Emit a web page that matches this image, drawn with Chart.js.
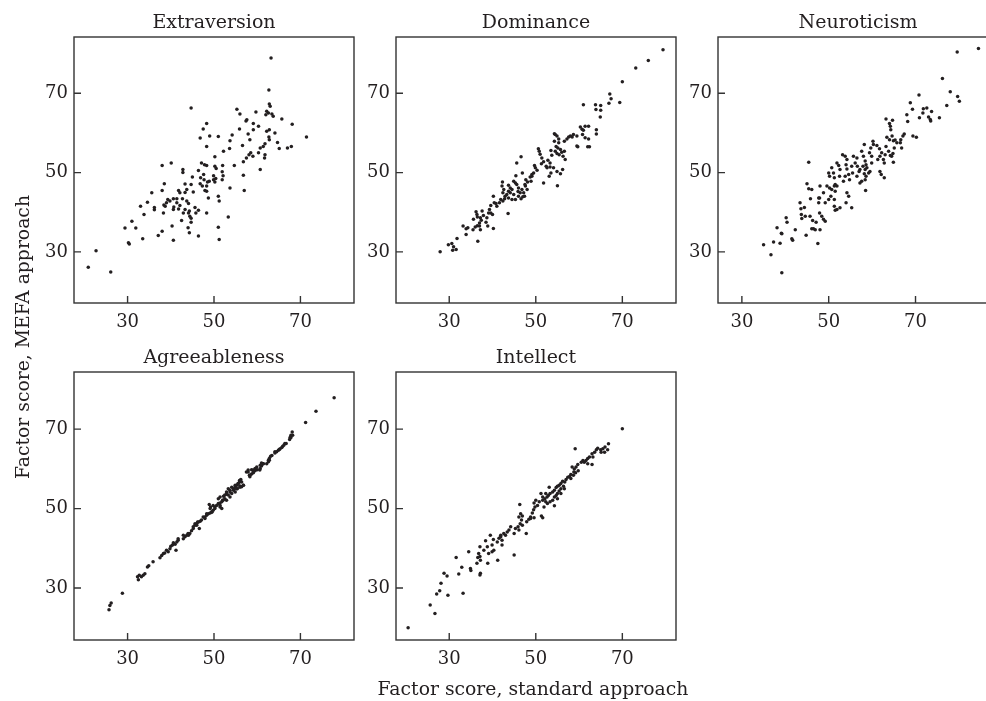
<!DOCTYPE html>
<html>
<head>
<meta charset="utf-8">
<script src="https://cdn.jsdelivr.net/npm/chart.js@4/dist/chart.umd.min.js"></script>
<style>
  html, body { margin:0; padding:0; background:#fff; width:986px; height:701px; overflow:hidden; }
  .panel { position:absolute; }
  .axis-title { position:absolute; font:18.8px "DejaVu Serif", serif; color:#231f20; white-space:nowrap; text-align:center; line-height:22px; height:22px; }
</style>
</head>
<body>
<canvas id="c-extra" class="panel"></canvas>
<canvas id="c-dom" class="panel"></canvas>
<canvas id="c-neuro" class="panel"></canvas>
<canvas id="c-agree" class="panel"></canvas>
<canvas id="c-intel" class="panel"></canvas>
<div class="axis-title" style="left:333px;top:678px;width:400px;">Factor score, standard approach</div>
<div class="axis-title" style="left:-177px;top:326px;width:400px;transform:rotate(-90deg);">Factor score, MEFA approach</div>

<script>
/* ===== DATA ===== */
const TICKS = [30, 50, 70];

// [standard approach, MEFA approach]
const extraversion = [
  [63.2,78.9],[62.7,70.8],[44.7,66.3],[62.8,67.3],[63.0,66.7],[55.3,66.0],[56.0,64.8],[59.7,65.3],[62.2,65.5],[62.6,65.0],
  [63.4,64.8],[63.7,64.2],[62.0,64.6],[65.7,63.5],[57.4,63.0],[57.6,63.3],[48.3,62.4],[47.5,61.0],[55.9,61.0],[59.1,62.4],
  [60.3,61.7],[59.1,60.8],[62.8,60.8],[62.2,60.4],[68.1,62.2],[64.1,60.0],[54.2,59.5],[49.0,59.2],[46.8,58.7],[51.0,59.1],
  [57.9,59.7],[71.4,59.0],[53.7,58.0],[62.7,59.0],[62.8,58.3],[58.3,58.3],[61.8,57.3],[61.4,56.6],[48.3,56.6],[56.6,56.8],
  [64.7,57.6],[65.1,56.1],[67.0,56.2],[67.9,56.6],[60.7,56.2],[60.3,55.0],[52.2,55.4],[53.6,56.1],[58.1,54.5],[58.5,55.0],
  [57.5,53.7],[59.0,54.1],[61.8,54.5],[61.7,53.7],[56.8,52.7],[54.7,51.8],[50.2,54.0],[60.7,50.8],[47.1,52.4],[47.8,52.0],
  [48.3,51.8],[42.8,50.8],[42.8,50.0],[38.0,51.8],[40.1,52.4],[46.4,50.5],[47.6,49.5],[50.2,51.6],[50.5,51.0],[49.9,49.2],
  [50.4,48.5],[51.9,50.2],[52.1,49.2],[51.9,48.2],[49.9,48.2],[50.2,47.6],[52.0,51.8],[47.7,48.2],[48.5,47.6],[48.9,47.8],
  [45.0,48.9],[46.9,48.7],[56.8,49.3],[57.0,45.5],[53.7,46.1],[48.3,46.6],[47.9,45.5],[48.3,45.3],[48.7,43.6],[46.8,47.2],
  [47.3,46.6],[44.7,47.0],[45.2,45.1],[43.3,47.1],[41.8,45.5],[42.1,44.9],[43.3,45.0],[43.7,45.7],[41.4,43.4],[41.4,42.4],
  [38.5,47.2],[38.0,45.5],[40.6,43.4],[39.8,42.8],[39.0,42.4],[38.7,41.5],[39.3,43.2],[40.7,41.3],[40.6,40.7],[42.1,41.7],
  [43.7,42.8],[44.1,42.2],[44.3,40.3],[44.4,39.0],[44.7,38.5],[45.6,41.2],[45.8,39.8],[43.3,40.7],[44.1,39.8],[42.9,39.8],
  [48.3,39.8],[46.4,40.5],[35.6,44.9],[36.2,41.2],[36.2,40.6],[34.6,42.5],[33.0,41.5],[33.8,39.4],[38.4,41.8],[38.3,39.8],
  [40.3,36.5],[42.5,37.9],[44.0,36.1],[44.3,34.8],[46.4,34.0],[44.7,37.5],[53.3,38.8],[51.0,36.2],[51.2,33.1],[51.0,44.0],
  [51.2,42.8],[37.1,34.1],[38.0,35.2],[40.6,32.9],[33.5,33.3],[29.4,36.0],[31.0,37.7],[31.9,36.0],[30.2,32.3],[30.4,32.0],
  [20.9,26.1],[22.7,30.3],[26.1,24.9],[41.8,40.8],[42.7,43.4]
];

const dominance = [
  [79.4,81.0],[76.0,78.3],[73.1,76.4],[70.0,72.9],[67.1,69.8],[67.4,68.6],[66.9,67.5],[69.4,67.7],[63.8,67.1],[63.9,65.9],
  [65.0,66.9],[65.0,65.7],[64.9,64.0],[61.0,67.1],[64.0,60.8],[64.0,59.7],[60.3,61.5],[60.7,60.9],[61.0,60.7],[61.4,61.7],
  [62.2,61.7],[60.8,59.6],[61.4,58.8],[62.2,58.5],[62.4,56.5],[62.0,56.5],[59.5,59.2],[59.5,56.7],[59.7,56.5],[58.7,59.6],
  [58.4,59.0],[58.0,59.2],[57.6,59.0],[57.2,58.5],[56.6,57.9],[54.3,59.8],[54.5,59.6],[54.9,59.2],[55.3,58.5],[54.3,57.9],
  [55.3,57.5],[54.7,56.6],[55.1,56.2],[55.7,55.8],[54.5,55.4],[54.9,54.8],[55.4,54.5],[56.0,55.1],[56.3,54.1],[56.6,55.4],
  [56.8,53.3],[53.5,55.6],[53.7,54.4],[52.8,53.1],[53.3,52.4],[52.4,51.6],[50.6,56.0],[50.8,55.4],[51.0,54.6],[51.4,53.7],
  [51.8,52.7],[51.3,52.2],[52.6,51.2],[53.3,51.4],[54.1,51.2],[53.5,49.9],[53.1,49.1],[54.9,50.3],[55.7,49.7],[56.2,50.8],
  [55.0,46.7],[51.8,47.4],[49.9,51.2],[50.3,50.6],[49.5,49.9],[49.1,49.5],[49.7,51.8],[48.7,48.9],[48.9,47.8],[49.1,49.1],
  [47.7,48.2],[48.1,47.6],[47.6,46.6],[48.0,45.7],[47.2,44.9],[47.4,44.0],[47.0,43.9],[46.6,43.4],[46.6,54.0],[45.6,52.4],
  [45.4,49.2],[44.9,47.8],[45.3,47.4],[45.6,47.0],[46.0,46.1],[43.7,46.8],[44.1,46.1],[44.5,45.7],[43.7,45.3],[44.1,44.9],
  [44.9,44.5],[43.3,44.5],[42.9,44.0],[43.7,43.6],[44.5,43.2],[45.3,43.2],[46.0,44.0],[46.4,44.9],[46.8,45.7],[42.3,47.6],
  [42.2,46.6],[42.6,45.7],[42.4,44.9],[42.8,43.4],[42.4,42.8],[41.9,43.2],[41.6,42.4],[41.0,41.5],[40.8,42.2],[43.6,39.7],
  [40.2,44.0],[40.4,42.4],[39.6,41.7],[39.3,40.7],[39.1,39.8],[39.6,39.8],[40.0,39.4],[38.7,38.6],[38.5,37.5],[38.9,36.5],
  [40.2,35.9],[37.6,40.3],[37.9,39.2],[37.2,38.6],[37.4,38.0],[37.0,37.3],[36.5,36.6],[36.0,36.3],[37.0,36.5],[36.2,40.1],
  [36.4,39.4],[36.5,38.8],[35.6,38.2],[37.2,35.6],[36.6,32.7],[33.2,36.5],[33.9,35.8],[34.3,36.1],[33.9,34.4],[35.5,35.6],
  [31.8,33.4],[30.6,32.1],[29.8,31.8],[31.0,31.3],[30.8,30.4],[31.6,30.6],[27.9,30.0],[46.9,49.9],[47.5,47.0],[45.9,45.2]
];

const neuroticism = [
  [84.5,81.3],[79.6,80.4],[76.2,73.7],[78.0,70.4],[79.7,69.2],[80.1,68.0],[77.2,66.9],[75.5,63.8],[70.8,69.6],[68.8,67.6],
  [69.3,66.0],[71.8,66.1],[72.6,66.3],[71.7,65.0],[73.0,64.0],[73.4,63.4],[73.7,65.4],[73.5,63.0],[70.9,63.8],[68.0,64.6],
  [68.2,62.9],[69.4,59.2],[70.2,58.9],[67.4,59.7],[67.1,59.2],[66.6,58.3],[66.8,56.2],[66.5,57.5],[63.2,63.5],[64.0,62.4],
  [64.2,61.7],[64.3,60.8],[64.7,63.2],[63.4,58.9],[64.0,58.3],[64.6,59.2],[64.9,58.0],[65.3,58.2],[65.7,57.5],[65.1,56.2],
  [63.2,56.6],[63.8,55.4],[63.0,54.5],[62.6,53.3],[62.8,52.4],[64.2,54.3],[64.8,54.8],[64.5,54.1],[64.9,52.6],[61.1,56.8],
  [61.7,56.0],[62.2,55.0],[61.8,54.1],[61.3,53.3],[61.8,50.3],[62.1,49.5],[62.8,48.7],[60.2,57.9],[60.3,57.1],[59.7,56.2],
  [59.4,55.0],[59.9,54.1],[59.9,52.4],[58.2,57.1],[57.6,55.4],[58.0,54.1],[58.4,52.9],[58.6,52.0],[57.9,51.6],[57.2,50.8],
  [58.4,50.8],[58.8,51.2],[59.2,49.9],[59.5,50.3],[55.7,54.1],[56.5,53.7],[56.1,52.4],[56.6,51.6],[57.0,50.3],[56.5,49.1],
  [57.6,47.8],[57.2,47.4],[58.4,48.2],[58.6,49.1],[58.2,49.7],[58.5,45.5],[55.3,41.1],[54.2,50.9],[54.6,49.5],[53.8,49.1],
  [53.4,47.8],[54.8,48.2],[55.3,51.6],[55.5,49.9],[54.0,52.0],[53.2,54.5],[53.8,54.1],[54.2,53.3],[51.9,52.4],[52.3,51.8],
  [52.6,50.8],[52.5,49.1],[51.5,47.0],[51.9,46.6],[54.2,44.9],[54.6,44.0],[54.0,42.4],[50.7,51.2],[51.1,49.9],[51.3,48.7],
  [50.0,49.9],[50.2,49.1],[49.6,46.6],[50.2,46.1],[50.7,45.7],[51.3,46.6],[50.5,44.0],[51.5,45.3],[51.3,43.2],[51.3,41.5],
  [51.5,40.5],[51.9,40.7],[52.6,41.1],[48.0,46.6],[48.8,44.9],[49.2,42.4],[47.9,43.6],[50.0,43.2],[45.4,52.6],[45.0,47.2],
  [45.4,45.9],[45.8,43.4],[46.1,45.7],[43.4,42.4],[43.6,40.9],[44.4,41.2],[44.6,39.0],[45.7,39.0],[46.3,37.9],[46.5,35.8],
  [47.1,37.5],[46.1,35.8],[46.9,35.6],[47.7,43.6],[47.7,42.4],[47.9,39.8],[48.4,39.0],[48.8,38.2],[49.2,37.7],[48.0,35.6],
  [47.5,32.1],[40.2,38.6],[40.4,37.5],[42.3,35.6],[41.5,33.3],[41.7,32.9],[43.7,39.4],[43.8,38.4],[44.8,34.2],[38.1,36.1],
  [39.1,34.7],[39.2,34.6],[37.3,32.5],[38.8,32.2],[35.0,31.8],[36.7,29.3],[39.2,24.7]
];

const agreeableness = [
  [77.8,77.9],[73.6,74.5],[71.2,71.7],[68.1,69.3],[67.8,68.5],[67.6,67.9],[66.4,66.4],[65.9,65.7],[65.3,65.1],[64.9,64.7],
  [64.1,64.3],[63.4,63.4],[62.8,62.2],[62.6,61.8],[61.4,61.3],[61.0,60.7],[60.7,60.1],[60.0,59.8],[59.5,59.5],[59.1,59.0],
  [58.7,58.7],[58.3,58.0],[57.9,59.7],[57.5,59.2],[26.2,26.2],[25.9,25.6],[25.7,24.5],[28.8,28.7],[32.3,32.8],[32.5,32.1],
  [32.7,33.2],[33.2,32.8],[33.6,33.2],[34.0,33.6],[34.6,35.3],[34.9,35.6],[35.9,36.6],[37.5,37.6],[37.9,38.2],[38.3,38.7],
  [38.6,38.8],[39.0,39.5],[39.4,39.1],[39.8,39.9],[40.0,40.5],[40.4,40.8],[41.0,41.0],[41.4,41.6],[41.7,42.0],[41.2,39.5],
  [42.9,42.4],[43.3,42.9],[43.7,43.3],[44.1,43.3],[44.4,43.7],[44.8,44.4],[45.2,45.0],[45.6,45.8],[46.0,46.2],[46.2,46.6],
  [46.8,46.8],[47.1,47.1],[46.6,45.0],[47.9,47.9],[48.3,48.3],[48.7,48.7],[49.1,48.9],[49.5,49.2],[49.8,49.6],[49.2,50.4],
  [48.9,51.0],[50.2,50.4],[50.6,50.8],[51.0,51.3],[51.4,51.4],[51.4,50.4],[51.8,50.0],[52.0,52.1],[52.2,53.1],[52.5,52.5],
  [52.9,53.6],[53.3,53.4],[53.7,54.6],[54.1,53.8],[54.5,55.0],[54.9,55.5],[54.9,54.2],[55.3,55.9],[55.4,55.0],[55.6,56.3],
  [55.9,56.7],[56.0,55.7],[56.2,57.3],[56.4,55.5],[56.8,55.9],[53.7,52.9],[52.9,52.1],[57.9,59.2],[58.2,58.4],[58.7,59.8],
  [59.1,59.7],[59.5,60.1],[59.9,60.5],[61.0,61.5],[61.4,61.3],[60.7,60.9],[62.6,62.2],[62.8,62.6],[63.1,63.2],[64.1,64.0],
  [64.5,64.3],[65.1,64.9],[65.7,65.4],[66.2,66.0],[66.7,66.4],[67.5,67.4],[67.8,67.9],[68.2,68.5],
  [40.6,41.4],[41.7,42.4],[42.9,43.3],[44.0,43.7],[45.2,45.4],[45.6,46.2],[46.4,46.6],[46.0,45.8],[47.5,47.9],[48.3,48.7],
  [47.9,47.5],[49.1,50.0],[49.8,50.8],[49.5,49.1],[50.2,50.0],[51.0,52.5],[51.4,52.9],[51.8,51.7],[52.1,52.1],[52.5,53.4],
  [52.9,54.2],[51.4,50.8],[53.3,55.0],[53.7,54.2],[54.1,55.4],[54.5,54.6],[54.9,55.9],[55.2,55.0],[55.6,56.3],[56.0,55.4],
  [56.4,56.7],[56.8,55.9],[55.9,57.1],[58.3,58.4],[59.1,59.2],[60.6,59.7],[62.2,61.3]
];

const intellect = [
  [70.0,70.1],[59.1,65.1],[66.8,66.3],[66.0,65.5],[65.5,65.1],[65.0,64.8],[64.3,65.2],[64.0,64.8],[63.6,64.2],[63.0,63.8],
  [62.4,63.0],[62.0,62.6],[61.6,62.1],[61.2,61.7],[60.9,62.1],[60.5,61.7],[66.6,64.8],[65.9,64.2],[65.1,64.2],[63.2,63.0],
  [63.0,61.1],[62.0,61.3],[59.7,61.1],[59.3,60.5],[58.9,60.0],[58.4,60.5],[58.8,59.2],[58.1,58.6],[57.8,58.1],[57.4,57.9],
  [57.0,57.3],[56.7,56.7],[59.8,59.5],[59.2,59.0],[58.7,58.4],[58.1,57.6],[56.2,56.9],[55.8,56.3],[55.4,55.9],[55.0,55.6],
  [54.7,55.3],[54.3,54.6],[53.9,54.2],[53.3,53.8],[52.9,53.3],[52.6,52.9],[52.1,52.5],[51.6,52.1],[55.8,55.0],[55.4,54.4],
  [55.0,53.8],[54.7,53.3],[54.3,52.9],[53.9,52.1],[53.3,51.7],[52.7,51.3],[52.3,51.7],[54.3,50.7],[56.4,55.6],[56.6,55.0],
  [55.8,53.8],[55.0,52.5],[53.1,55.4],[52.3,53.8],[51.2,53.8],[51.6,52.9],[50.8,51.7],[50.4,50.8],[51.9,50.4],[51.3,48.1],
  [51.6,47.7],[50.0,52.1],[49.6,51.4],[49.8,50.4],[49.5,49.7],[49.2,48.9],[48.8,47.9],[48.4,47.3],[47.9,46.7],[48.8,47.5],
  [49.6,47.7],[46.3,51.0],[46.5,48.7],[46.1,47.9],[46.9,48.1],[46.7,47.1],[46.4,46.2],[45.9,45.4],[46.1,44.6],[45.3,45.0],
  [45.0,43.7],[45.0,38.3],[47.8,43.7],[46.9,45.8],[44.2,45.4],[43.8,44.6],[43.4,44.1],[43.0,43.3],[42.6,43.7],[42.2,42.0],
  [41.9,42.9],[41.5,42.5],[41.1,41.6],[42.2,40.8],[41.9,43.3],[41.2,37.0],[40.2,42.2],[39.9,40.8],[40.3,39.5],[39.9,39.1],
  [39.5,43.3],[38.8,40.4],[39.1,38.7],[38.9,36.2],[38.4,41.9],[38.0,39.5],[37.1,40.4],[36.8,38.7],[37.1,37.9],[37.2,37.0],
  [36.6,37.7],[36.4,36.2],[37.2,33.7],[37.1,33.3],[34.5,39.1],[34.9,34.9],[35.0,34.4],[32.9,35.2],[33.2,28.7],[32.2,33.5],
  [31.6,37.7],[28.8,33.7],[29.5,33.0],[28.1,31.2],[27.8,29.3],[27.1,28.5],[29.7,28.2],[25.6,25.7],[26.7,23.6],[20.5,20.0]
];

/* ===== STYLE / LAYOUT ===== */
const INK = '#231f20';
const FONT = '"DejaVu Serif", serif';
const Y_AXIS_W = 64, X_AXIS_H = 42, TITLE_H = 38, PAD_R = 12;
const TITLE_SIZE = 19;

const panels = [
  { id:'c-extra', title:'Extraversion',  pts:extraversion,  area:[74.3, 37, 280, 266.3],  x:[17.6, 82.4], y:[17.1, 84.2] },
  { id:'c-dom',   title:'Dominance',     pts:dominance,     area:[395.7, 37, 280, 266.3], x:[17.7, 82.4], y:[17.1, 84.2] },
  { id:'c-neuro', title:'Neuroticism',   pts:neuroticism,   area:[717.7, 37, 280, 266.3], x:[24.5, 89.0], y:[17.1, 84.2] },
  { id:'c-agree', title:'Agreeableness', pts:agreeableness, area:[74.3, 372.3, 280, 267.7],  x:[17.6, 82.4], y:[16.9, 84.4] },
  { id:'c-intel', title:'Intellect',     pts:intellect,     area:[395.7, 372.3, 280, 267.7], x:[17.7, 82.4], y:[16.9, 84.4] },
];

/* ===== FRAME + INWARD TICKS ===== */
const frame = {
  id: 'frame',
  afterDatasetsDraw(chart) {
    const { ctx, chartArea: a, scales: { x, y } } = chart;
    ctx.save();
    ctx.strokeStyle = '#333';
    ctx.lineWidth = 1.4;
    ctx.strokeRect(a.left, a.top, a.right - a.left, a.bottom - a.top);
    ctx.beginPath();
    x.ticks.forEach(t => {
      const px = x.getPixelForValue(t.value);
      ctx.moveTo(px, a.bottom); ctx.lineTo(px, a.bottom - 7);
    });
    y.ticks.forEach(t => {
      const py = y.getPixelForValue(t.value);
      ctx.moveTo(a.left, py); ctx.lineTo(a.left + 7, py);
    });
    ctx.stroke();
    ctx.restore();
  }
};

function axis(range, fitFn, pad) {
  return {
    type: 'linear', min: range[0], max: range[1],
    afterBuildTicks: s => { s.ticks = TICKS.map(v => ({ value: v })); },
    afterFit: fitFn,
    grid: { display: false, drawTicks: false },
    border: { display: false },
    ticks: { color: INK, font: { family: FONT, size: 18 }, padding: pad, maxRotation: 0, autoSkip: false }
  };
}

function makePanel(p) {
  const [L, T, W, H] = p.area;
  const cv = document.getElementById(p.id);
  const cw = Math.round(Y_AXIS_W + W + PAD_R), ch = Math.round(TITLE_H + H + X_AXIS_H);
  cv.width = cw; cv.height = ch;
  cv.style.width = cw + 'px'; cv.style.height = ch + 'px';
  cv.style.left = (L - Y_AXIS_W) + 'px';
  cv.style.top = (T - TITLE_H) + 'px';

  new Chart(cv, {
    type: 'scatter',
    data: { datasets: [{
      data: p.pts.map(([x, y]) => ({ x, y })),
      pointRadius: 1.75, pointHoverRadius: 1.75,
      pointBackgroundColor: INK, pointBorderWidth: 0
    }]},
    options: {
      responsive: false, animation: false, devicePixelRatio: 1,
      layout: { padding: { left: 0, right: PAD_R, top: 0, bottom: 0 } },
      plugins: {
        legend: { display: false },
        tooltip: { enabled: false },
        title: {
          display: true, fullSize: false, text: p.title, color: INK,
          font: { family: FONT, size: TITLE_SIZE, weight: 'normal' },
          padding: { top: 13, bottom: TITLE_H - 13 - TITLE_SIZE * 1.2 }
        }
      },
      scales: {
        x: axis(p.x, s => { s.height = X_AXIS_H; }, 9),
        y: axis(p.y, s => { s.width = Y_AXIS_W; }, 6)
      }
    },
    plugins: [frame]
  });
}

panels.forEach(makePanel);
</script>
</body>
</html>
